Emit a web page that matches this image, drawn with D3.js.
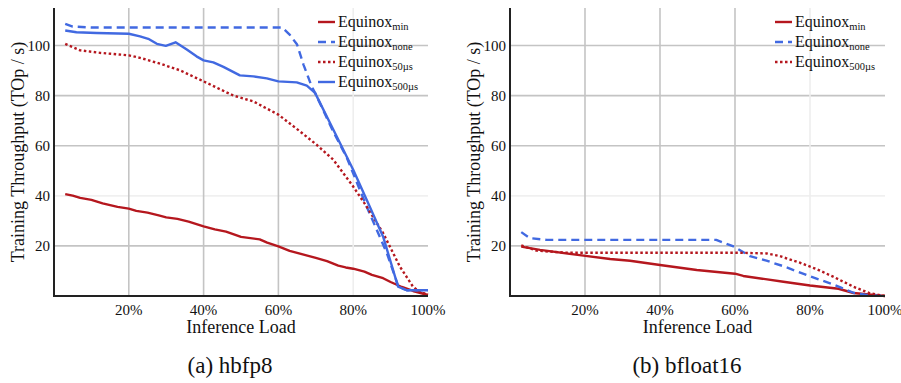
<!DOCTYPE html>
<html>
<head>
<meta charset="utf-8">
<script src="https://cdn.jsdelivr.net/npm/d3@7"></script>
<style>
  body { margin: 0; background: #fff; }
  svg text { font-family: "Liberation Serif", "Times New Roman", serif; fill: #111; }
</style>
</head>
<body>
<svg id="chart" width="901" height="383"></svg>
<script>
// ticks
var xTicks = [20, 40, 60, 80, 100];
var yTicks = [20, 40, 60, 80, 100];

// hbfp8 series, [inference load %, TOp/s]
var hbfpMin = [[3,40.7],[5,40.1],[7,39.2],[10,38.4],[13,37.0],[17,35.6],[20,34.9],[22,34.0],[25,33.3],[28,32.2],[30,31.4],[33,30.8],[36,29.7],[40,27.8],[43,26.6],[46,25.7],[50,23.6],[55,22.6],[57,21.3],[60,19.8],[63,18.0],[66,16.8],[70,15.2],[73,13.9],[76,12.1],[78,11.4],[80,10.9],[83,9.7],[85,8.4],[88,7.1],[90,5.6],[93,3.6],[96,2.0],[100,0.4]];
var hbfpNone = [[3,108.7],[5,107.6],[10,107.2],[30,107.2],[50,107.2],[61,107.2],[63,104.4],[65,100.4],[66.7,92.4],[68.9,83.7],[70,80.5],[74.5,66.2],[78.3,55.2],[83.6,35.7],[89,17.1],[92.1,3.7],[94.3,2.3],[100,2.3]];
var hbfp50 = [[3,100.7],[7,98.1],[12.3,97.1],[20,96.1],[23,95.1],[28.3,92.8],[33.7,90.1],[40,85.7],[48,80.0],[53.3,77.7],[60,72.4],[65.8,65.7],[70.2,60.4],[74.7,54.4],[80,43.7],[83.6,35.7],[88,25.1],[92.5,11.7],[96,3.7],[98,1.3],[100,0.8]];
var hbfp500 = [[3,106.0],[6,105.3],[11.4,105.0],[20,104.7],[23,103.7],[25.2,102.7],[27.5,100.7],[29.9,99.9],[32.5,101.3],[35.5,98.4],[38.1,95.7],[40,94.1],[42.6,93.3],[45.3,91.5],[49.7,88.1],[53.3,87.7],[56.9,86.9],[60,85.7],[64.9,85.3],[67.6,84.0],[69.8,81.1],[74.7,66.4],[80,50.4],[83.6,38.4],[88,23.7],[92,3.7],[94.3,2.3],[100,2.3]];

// bfloat16 series
var bfMin = [[3,19.7],[8,18.4],[19.6,16.1],[26.7,14.8],[32,14.1],[40,12.4],[49.8,10.4],[60,8.9],[62.2,8.0],[72.9,5.7],[80,4.2],[87.6,2.9],[91.6,1.2],[100,0]];
var bfNone = [[3,25.5],[5.3,23.1],[9.8,22.4],[30,22.4],[55,22.4],[59.6,19.8],[64,15.9],[68.4,14.1],[72.9,11.9],[80,7.9],[86.2,4.6],[91.6,1.3],[95.1,0.4],[100,0]];
var bf500 = [[3,20.2],[7.1,18.1],[15,17.3],[40,17.3],[60,17.3],[68.4,17.0],[72,15.9],[77.3,13.3],[81.8,10.7],[86.2,7.7],[91.6,3.7],[96,1.1],[100,0]];

var red = "#b5171e", blue = "#4169e1";

var panels = [
  { left: 54, right: 428, title: "(a) hbfp8", capX: 230, legX: 318,
    series: [
      { data: hbfpMin, name: "min", color: red, dash: null },
      { data: hbfpNone, name: "none", color: blue, dash: "8,5" },
      { data: hbfp50, name: "50\u00b5s", color: red, dash: "2.5,2.5" },
      { data: hbfp500, name: "500\u00b5s", color: blue, dash: null }
    ] },
  { left: 510, right: 885, title: "(b) bfloat16", capX: 687, legX: 775,
    series: [
      { data: bfMin, name: "min", color: red, dash: null },
      { data: bfNone, name: "none", color: blue, dash: "8,5" },
      { data: bf500, name: "500\u00b5s", color: red, dash: "2.5,2.5" }
    ] }
];

var svg = d3.select("#chart");
var plotTop = 8, plotBottom = 296;

panels.forEach(p => {
  var g = svg.append("g");
  var x = d3.scaleLinear().domain([0, 100]).range([p.left, p.right]);
  var y = d3.scaleLinear().domain([0, 115]).range([plotBottom, plotTop]);

  // grid
  g.selectAll(".hg").data(yTicks).enter().append("line")
    .attr("x1", p.left).attr("x2", p.right)
    .attr("y1", d => y(d)).attr("y2", d => y(d))
    .attr("stroke", d => d == 40 ? "#f0f0f0" : "#c4c4c4")
    .attr("stroke-width", 1.6);
  g.selectAll(".vg").data(xTicks.filter(d => d < 100)).enter().append("line")
    .attr("x1", d => x(d)).attr("x2", d => x(d))
    .attr("y1", plotTop).attr("y2", plotBottom)
    .attr("stroke", d => d == 80 ? "#eeeeee" : "#c4c4c4")
    .attr("stroke-width", 1.6);

  // tick labels
  g.selectAll(".yt").data(yTicks).enter().append("text")
    .attr("x", p.left - 4).attr("y", d => y(d) + 5)
    .attr("text-anchor", "end").style("font-size", "15px")
    .text(d => d);
  g.selectAll(".xt").data(xTicks).enter().append("text")
    .attr("x", d => x(d)).attr("y", 315)
    .attr("text-anchor", "middle").style("font-size", "15px")
    .text(d => d + "%");

  // lines
  var line = d3.line().x(d => x(d[0])).y(d => y(d[1]));
  p.series.forEach(s => {
    g.append("path").datum(s.data)
      .attr("d", line)
      .attr("fill", "none")
      .attr("stroke", s.color)
      .attr("stroke-width", 2.4)
      .attr("stroke-linejoin", "round")
      .attr("stroke-dasharray", s.dash);
  });

  // axes
  g.append("line").attr("x1", p.left).attr("x2", p.left).attr("y1", plotTop).attr("y2", plotBottom + 1)
    .attr("stroke", "#222").attr("stroke-width", 2);
  g.append("line").attr("x1", p.left - 1).attr("x2", p.right).attr("y1", plotBottom).attr("y2", plotBottom)
    .attr("stroke", "#222").attr("stroke-width", 2);

  // titles
  g.append("text").attr("x", (p.left + p.right) / 2).attr("y", 333)
    .attr("text-anchor", "middle").style("font-size", "18px").text("Inference Load");
  g.append("text")
    .attr("transform", "translate(" + (p.left - 30) + ",152) rotate(-90)")
    .attr("text-anchor", "middle").style("font-size", "18px")
    .text("Training Throughput (TOp / s)");
  g.append("text").attr("x", p.capX).attr("y", 373)
    .attr("text-anchor", "middle").style("font-size", "23px").text(p.title);

  // legend
  p.series.forEach((s, i) => {
    var ly = 22 + i * 20;
    g.append("line").attr("x1", p.legX).attr("x2", p.legX + 17)
      .attr("y1", ly).attr("y2", ly)
      .attr("stroke", s.color).attr("stroke-width", 2.4)
      .attr("stroke-dasharray", s.dash);
    var t = g.append("text").attr("x", p.legX + 20).attr("y", ly + 5).style("font-size", "16px");
    t.append("tspan").text("Equinox");
    t.append("tspan").attr("dy", 3).style("font-size", "10.5px").text(s.name);
  });
});
</script>
</body>
</html>
